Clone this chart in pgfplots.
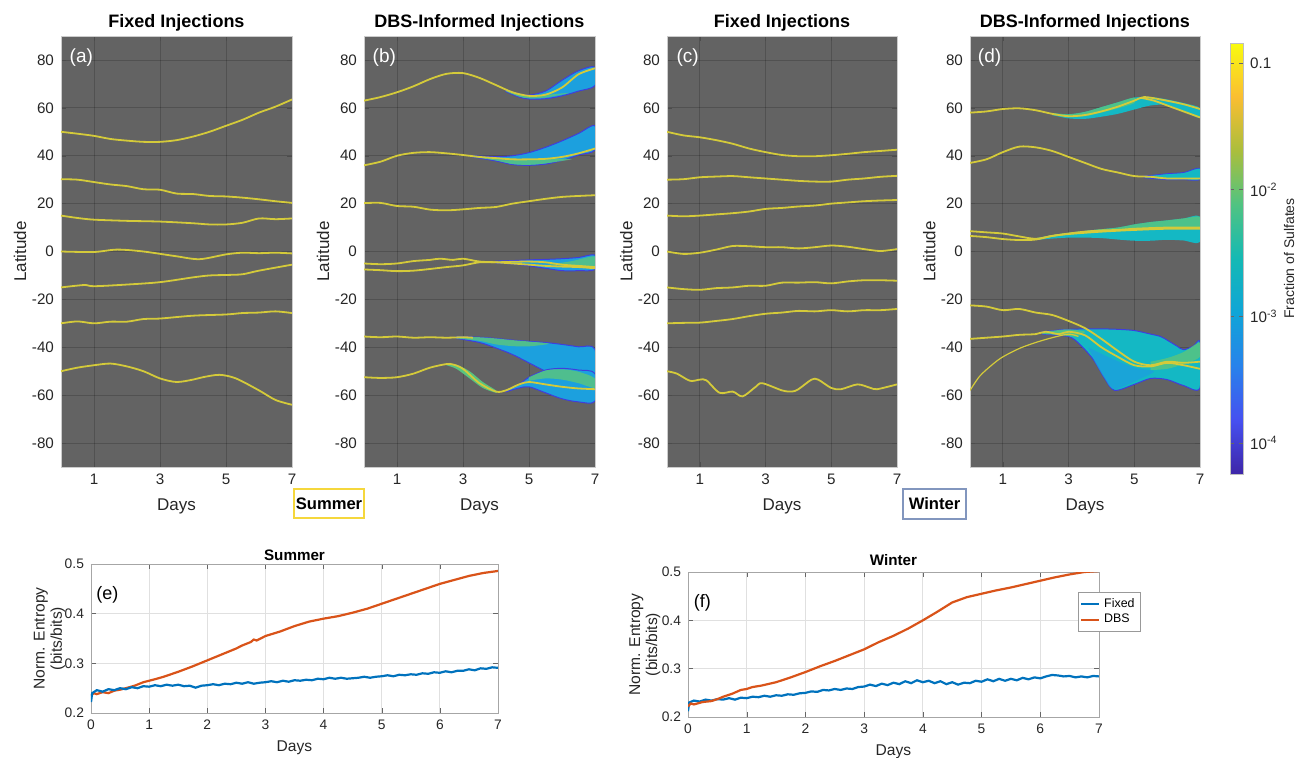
\documentclass[border=0pt]{standalone}
\usepackage{fontspec}
\setmainfont{Liberation Sans}
\usepackage{pgfplots}
\pgfplotsset{compat=1.18}

\definecolor{bggray}{RGB}{99,99,99}
\definecolor{yel}{RGB}{212,202,58}
\definecolor{pblue}{RGB}{62,62,222}
\definecolor{pcyan}{RGB}{28,160,222}
\definecolor{pteal}{RGB}{20,184,196}
\definecolor{pgreen}{RGB}{88,196,128}
\definecolor{mblue}{RGB}{0,114,189}
\definecolor{morange}{RGB}{217,83,25}
\definecolor{sumyel}{RGB}{245,215,60}
\definecolor{winblue}{RGB}{130,150,190}

\pgfplotsset{
  every axis title shift=0pt,
  colormap={parula}{rgb255=(62,38,168) rgb255=(70,80,240) rgb255=(40,130,235)
    rgb255=(15,165,215) rgb255=(20,185,180) rgb255=(80,195,130)
    rgb255=(170,190,60) rgb255=(250,190,50) rgb255=(249,251,14)},
  toppanel/.style={
    scale only axis, width=115.5pt, height=215.5pt, anchor=north west,
    xmin=0, xmax=7, ymin=-90, ymax=90,
    xtick={1,3,5,7}, ytick={-80,-60,...,80},
    axis background/.style={fill=bggray},
    grid=major, grid style={black, line width=0.4pt, opacity=0.18},
    axis line style={draw=black!20},
    tick align=inside, major tick length=2.5pt, tick style={black!70},
    ticklabel style={font=\fontsize{7.6}{8}\selectfont, text=black!85},
    /pgf/number format/assume math mode=true,
    xlabel={Days}, ylabel={Latitude},
    xlabel style={at={(axis description cs:0.5,-0.0905)}, anchor=center,
      font=\fontsize{8.5}{9}\selectfont, text=black!85},
    ylabel style={at={(axis description cs:-0.1775,0.5)}, anchor=center,
      font=\fontsize{8.5}{9}\selectfont, text=black!85},
    title style={at={(axis description cs:0.5,1.031)}, anchor=center,
      font=\bfseries\fontsize{9}{10}\selectfont},
    clip=true,
  },
  yline/.style={yel, line width=0.9pt, smooth, tension=0.5},
  spread/.style={fill=pcyan, draw=pblue, line width=0.5pt, smooth, tension=0.5},
  inner/.style={fill=pgreen, draw=none, fill opacity=0.85, smooth, tension=0.5},
  botpanel/.style={
    scale only axis, anchor=north west,
    xmin=0, xmax=7, ymin=0.2, ymax=0.5,
    xtick={0,...,7}, ytick={0.2,0.3,0.4,0.5},
    grid=major, grid style={black!12, line width=0.4pt},
    axis line style={draw=black!35},
    tick align=inside, major tick length=2.5pt, tick style={black!60},
    ticklabel style={font=\fontsize{6.9}{8}\selectfont, text=black!85},
    yticklabel style={/pgf/number format/fixed, /pgf/number format/precision=1,
      /pgf/number format/fixed zerofill},
    /pgf/number format/assume math mode=true,
    xlabel={Days}, ylabel={Norm. Entropy\\(bits/bits)},
    xlabel style={font=\fontsize{7.8}{8}\selectfont, text=black!85, anchor=center},
    ylabel style={align=center, font=\fontsize{7.8}{8.6}\selectfont, text=black!85, anchor=center},
    title style={font=\bfseries\fontsize{7.6}{8}\selectfont, anchor=center},
  },
}

\begin{document}
\begin{tikzpicture}
\path[use as bounding box] (0pt,0pt) rectangle (648.5pt,-378.5pt);

% ---------------- (a) Summer, fixed
\begin{axis}[toppanel, at={(30.5pt,-18pt)}, title={Fixed Injections}]
\addplot[yline] coordinates {(0,50) (0.5,49.2) (1,48.3) (1.5,47) (2,46.3) (2.5,45.8) (3,45.8) (3.5,46.5) (4,48) (4.5,50) (5,52.5) (5.5,55) (6,58) (6.5,60.5) (7,63.5)};
\addplot[yline] coordinates {(0,30.2) (0.5,30) (1,29) (1.5,28) (2,27.3) (2.5,26) (3,25.8) (3.5,24.2) (4,24) (4.5,23.2) (5,23) (5.5,22.5) (6,21.8) (6.5,21) (7,20.3)};
\addplot[yline] coordinates {(0,15) (0.5,14) (1,13.3) (2,12.8) (3,12.5) (4,11.8) (4.5,11.3) (5,11.3) (5.5,12) (6,13.8) (6.5,13.5) (7,13.8)};
\addplot[yline] coordinates {(0,0) (1,-0.2) (1.7,0.8) (2.5,0) (3.5,-2) (4.2,-3.2) (5,-1.2) (5.5,-0.5) (6,-0.7) (6.5,-0.5) (7,-0.8)};
\addplot[yline] coordinates {(0,-15) (0.7,-14) (1,-14.5) (2,-13.8) (3,-12.8) (4,-10.8) (4.5,-10) (5,-9.8) (5.5,-9.5) (6,-8) (7,-5.5)};
\addplot[yline] coordinates {(0,-30) (0.5,-29.2) (1,-30) (1.5,-29.3) (2,-29.3) (2.5,-28.2) (3,-28) (4,-26.8) (5,-26.3) (5.5,-25.7) (6,-25.5) (6.5,-25) (7,-25.7)};
\addplot[yline] coordinates {(0,-50) (0.5,-48.5) (1,-47.5) (1.5,-46.8) (2,-48) (2.5,-50) (3,-53) (3.5,-54.5) (4,-53.5) (4.3,-52.5) (4.8,-51.5) (5.3,-53) (6,-58) (6.5,-62) (7,-64)};
\node[white, font=\fontsize{9.5}{10}\selectfont] at (rel axis cs:0.088,0.95) {(a)};
\end{axis}

% ---------------- (b) Summer, DBS
\begin{axis}[toppanel, at={(182pt,-18pt)}, title={DBS-Informed Injections}]
% spreads
\addplot[spread] coordinates {(4.3,67.5) (4.7,65.8) (5,65.3) (5.5,67) (6,71.5) (6.5,75.5) (7,77) (7,69.3) (6.5,67) (6,65) (5.5,63.8) (5,63.7) (4.7,64.5) (4.3,66.8)} --cycle;
\addplot[inner] coordinates {(4.3,67.2) (4.7,65.6) (5,65.2) (5.5,65.4) (6.2,66.2) (5.5,64.3) (5,64) (4.7,64.7) (4.3,66.9)} --cycle;
\addplot[spread] coordinates {(3.3,40) (4,39.6) (4.5,40) (5,41.3) (5.5,43.5) (6,46.2) (6.5,49.3) (7,52.5) (7,42.5) (6.5,40.3) (6,38) (5.5,36.5) (5,36) (4.5,36.3) (4,37.8) (3.3,39.5)} --cycle;
\addplot[inner] coordinates {(3.3,40) (4,39.2) (4.5,38.8) (5,38.5) (5.5,38.5) (6.3,38.6) (5.5,36.8) (5,36.2) (4.5,36.5) (4,38) (3.3,39.5)} --cycle;
\addplot[spread] coordinates {(4,-4) (4.5,-3.8) (5,-3.5) (5.5,-3.3) (6,-3) (6.5,-2.5) (7,-1.5) (7,-7.5) (6.5,-8) (6,-8) (5.5,-7) (5,-6) (4.5,-5.2) (4,-4.8)} --cycle;
\addplot[inner] coordinates {(5.6,-5.5) (6.3,-4) (7,-2) (7,-6) (6.4,-6.5)} --cycle;
\addplot[spread] coordinates {(2.8,-35.5) (3.5,-35.8) (4,-36.3) (4.5,-37) (5,-37.5) (5.5,-38) (6,-38.8) (6.5,-39.8) (7,-40.8) (7,-58) (6.5,-56) (6,-53) (5.5,-50) (5,-46.5) (4.5,-43) (4,-40.3) (3.5,-38) (2.8,-36.3)} --cycle;
\addplot[inner] coordinates {(2.8,-35.5) (3.5,-35.8) (4,-36.3) (4.5,-37) (5,-37.6) (5.6,-38.5) (5,-39.6) (4.5,-39.5) (4,-38.8) (3.5,-37.3) (2.8,-36.3)} --cycle;
\addplot[spread] coordinates {(4.3,-58) (4.7,-55.5) (5,-52.5) (5.5,-49.5) (6,-48.8) (6.5,-49.5) (7,-51) (7,-62.5) (6.5,-62.8) (6,-61.5) (5.5,-59) (5,-56.5) (4.7,-57) (4.3,-58.6)} --cycle;
\addplot[inner] coordinates {(5,-52.5) (5.5,-49.7) (6,-49.2) (6.5,-50.2) (7,-53) (7,-57) (6.5,-55) (6,-53.5) (5.5,-53) (5,-54)} --cycle;
\addplot[fill=pgreen, draw=none, smooth, tension=0.5] coordinates {(2.5,-47) (2.8,-47.3) (3.2,-50) (3.6,-54.5) (4,-58) (4,-59) (3.6,-57) (3.2,-53) (2.8,-49) (2.5,-47.5)} --cycle;
% trajectories
\addplot[yline] coordinates {(0,63) (0.5,64.5) (1,66.5) (1.5,69) (2,72) (2.5,74.2) (3,74.5) (3.5,72.5) (4,69.5) (4.5,66.5) (5,65) (5.5,65.5) (6,68.5) (6.5,74) (7,76.5)};
\addplot[yline] coordinates {(0,36) (0.5,37.5) (1,40) (1.5,41.2) (2,41.5) (2.5,41) (3,40.3) (3.5,39.5) (4,39) (4.5,38.5) (5,38.5) (5.5,38.7) (6,39.5) (6.5,41) (7,43)};
\addplot[yline] coordinates {(0,20.2) (0.5,20.3) (1,19) (1.5,18.7) (2,17.5) (2.5,17.2) (3,17.6) (3.5,18.2) (4,18.6) (4.5,20) (5,21) (5.5,22) (6,22.8) (6.5,23.2) (7,23.5)};
\addplot[yline] coordinates {(0,-5) (0.5,-5.3) (1,-5) (1.5,-4) (2,-3.5) (2.3,-3) (2.7,-3.5) (3,-3) (3.5,-4.2) (4,-4.5) (4.5,-5) (5,-5.5) (5.5,-6) (6,-6.3) (6.5,-6.5) (7,-7)};
\addplot[yline] coordinates {(0,-7.5) (0.5,-7.8) (1,-8.2) (1.5,-8) (2,-7.3) (2.5,-6.5) (3,-5.8) (3.5,-4.5) (4,-4.5) (4.5,-4.3) (5,-4.2) (5.5,-4.5) (6,-5.5) (6.5,-6) (7,-6.5)};
\addplot[yline] coordinates {(0,-35.5) (0.5,-35.8) (1,-35.5) (1.5,-36) (2,-35.8) (2.5,-36) (3,-35.8) (3.3,-36)};
\addplot[yline] coordinates {(0,-52.5) (0.5,-52.8) (1,-52.5) (1.5,-51) (2,-48.5) (2.5,-47) (2.7,-47.2) (3,-49) (3.5,-55) (4,-58.5) (4.3,-58) (4.7,-55.5) (5,-54.5) (5.5,-55.5) (6,-56.5) (6.5,-57.2) (7,-57.5)};
\node[white, font=\fontsize{9.5}{10}\selectfont] at (rel axis cs:0.088,0.95) {(b)};
\end{axis}

% ---------------- (c) Winter, fixed
\begin{axis}[toppanel, at={(333.5pt,-18pt)}, width=115pt, title={Fixed Injections}]
\addplot[yline] coordinates {(0,50) (0.5,48.5) (1,47.7) (1.5,46.5) (2,45) (2.5,43) (3,41.5) (3.5,40.3) (4,39.8) (4.5,39.8) (5,40.2) (5.5,40.8) (6,41.5) (6.5,42) (7,42.5)};
\addplot[yline] coordinates {(0,30) (0.5,30.2) (1,31) (1.5,31.3) (2,31.5) (2.5,31) (3,30.5) (3.5,30) (4,29.5) (4.5,29.2) (5,29.2) (5.5,30) (6,30.5) (6.5,31.2) (7,31.6)};
\addplot[yline] coordinates {(0,15) (0.5,14.7) (1,15) (1.5,15.5) (2,16) (2.5,16.7) (3,17.8) (3.5,18.2) (4,18.8) (4.5,19.2) (5,20) (5.5,20.5) (6,21) (6.5,21.3) (7,21.5)};
\addplot[yline] coordinates {(0,0) (0.5,-1) (1,-0.5) (1.5,0.8) (2,2.3) (2.5,2.2) (3,1.8) (3.5,1.8) (4,1.3) (4.5,1.8) (5,2.5) (5.5,2) (6,1) (6.5,0.2) (7,1)};
\addplot[yline] coordinates {(0,-15) (0.5,-15.7) (1,-16) (1.5,-15.3) (2,-15) (2.5,-14.3) (3,-14.3) (3.5,-13) (4,-13) (4.5,-12.8) (5,-13.3) (5.5,-12.5) (6,-12) (6.5,-12) (7,-12.2)};
\addplot[yline] coordinates {(0,-30) (0.5,-29.8) (1,-29.7) (1.5,-29) (2,-28.2) (2.5,-27) (3,-26) (3.5,-25.5) (4,-24.8) (4.5,-25) (5,-24.5) (5.5,-25) (6,-24.5) (6.5,-24.5) (7,-24)};
\addplot[yline] coordinates {(0,-50) (0.3,-51) (0.7,-54) (1,-53.5) (1.2,-53.8) (1.6,-59) (2,-58.5) (2.3,-60.5) (2.7,-56.5) (2.9,-55) (3.5,-58) (3.8,-58.5) (4,-57.5) (4.4,-53.5) (4.6,-53.5) (5,-57) (5.3,-57.5) (5.8,-55.5) (6.2,-57) (6.4,-57.5) (7,-55.5)};
\node[white, font=\fontsize{9.5}{10}\selectfont] at (rel axis cs:0.09,0.95) {(c)};
\end{axis}

% ---------------- (d) Winter, DBS
\begin{axis}[toppanel, at={(485pt,-18pt)}, width=115pt, title={DBS-Informed Injections},
  colorbar, colormap name=parula,
  point meta min=-4.244, point meta max=-0.843,
  colorbar style={
    at={(parent axis.north east)}, anchor=north west,
    xshift=6.5pt, yshift=-3.5pt,
    scale only axis, width=6.5pt, height=215.5pt,
    ytick={-4,-3,-2,-1},
    yticklabels={10\textsuperscript{-4},10\textsuperscript{-3},10\textsuperscript{-2},0.1},
    axis line style={draw=black!25},
    tick align=inside, major tick length=2pt, tick style={black!60},
    yticklabel style={font=\fontsize{7.6}{8}\selectfont, text=black!85},
    ylabel={Fraction of Sulfates},
    ylabel style={at={(axis description cs:4.54,0.5)}, anchor=center,
      font=\fontsize{7}{8}\selectfont, text=black!85},
  }]
\addplot[fill=pteal, draw=none, smooth, tension=0.5] coordinates {(2.5,57.8) (3,57.3) (3.5,58.3) (4,60.3) (4.5,62.3) (5,64.3) (5.5,64.5) (6,63.5) (6.5,62) (7,60) (7,55.8) (6.5,58.5) (6,61.2) (5.5,61) (5,59.3) (4.5,57.5) (4,56.3) (3.5,55.4) (3,55.6) (2.5,57)} --cycle;
\addplot[inner] coordinates {(2.5,57.8) (3,57.3) (3.5,58.3) (4,60.3) (4.5,62.3) (5,64.3) (5,62) (4.5,59.8) (4,58) (3.5,56.5) (3,56.2) (2.5,57)} --cycle;
\addplot[fill=pteal, draw=pblue, line width=0.4pt, smooth, tension=0.5] coordinates {(5.3,31.5) (6,32.5) (6.5,33) (7,34.8) (7,30) (6.5,30) (6,30) (5.3,30.8)} --cycle;
\addplot[fill=pteal, draw=none, smooth, tension=0.5] coordinates {(2,5.5) (2.5,6.8) (3,7.8) (3.5,8.6) (4,9.3) (4.5,10) (5,11.3) (5.5,12.3) (6,13) (6.5,13.8) (7,14.5) (7,4) (6.5,4.6) (6,4.9) (5.5,4.5) (5,4.5) (4.5,5) (4,5.6) (3.5,5.8) (3,5.8) (2.5,5.4) (2,4.8)} --cycle;
\addplot[inner] coordinates {(2,5.5) (2.5,6.8) (3,7.8) (3.5,8.6) (4,9.3) (4.5,10) (5,11.3) (5.5,12.3) (6,13) (6.5,13.8) (7,14.5) (7,10) (6,9.8) (5,9) (4,8) (3,7) (2,5.2)} --cycle;
\addplot[spread, fill=pteal] coordinates {(2.2,-33.5) (2.7,-32.8) (3,-32.5) (3.5,-32.3) (4,-32.3) (4.5,-32.5) (5,-33) (5.5,-34.5) (5.8,-35.5) (6,-37) (6.3,-39.5) (6.5,-41) (6.8,-39.5) (7,-38) (7,-57) (6.5,-56) (6,-53.5) (5.5,-53) (5,-55.5) (4.4,-58) (4.1,-53) (3.8,-46) (3.5,-41) (3.2,-37) (3,-35.5) (2.7,-35) (2.2,-34.5)} --cycle;
\addplot[fill=pcyan, draw=none, fill opacity=0.8, smooth, tension=0.5] coordinates {(3.6,-40) (4.2,-44) (5,-48.5) (5.6,-50) (5.2,-53) (4.4,-57.5) (4.1,-53) (3.8,-46)} --cycle;
\addplot[inner] coordinates {(2.2,-33.5) (2.7,-32.8) (3,-32.5) (3.5,-33.5) (3.2,-35.5) (2.7,-34.8) (2.2,-34.5)} --cycle;
\addplot[inner] coordinates {(5.5,-46) (6,-44.5) (6.5,-42) (7,-38) (7,-44) (6.5,-47) (6,-49) (5.5,-49.5)} --cycle;
% trajectories
\addplot[yline] coordinates {(0,58) (0.5,58.5) (1,59.5) (1.5,59.8) (2,59) (2.5,57.5) (3,56.5) (3.5,57) (4,58.5) (4.5,60.5) (5,63) (5.3,64.5) (5.8,63.5) (6.5,61.5) (7,59.5)};
\addplot[yline] coordinates {(5.2,64.2) (5.6,63) (6,61) (6.5,58.5) (7,56)};
\addplot[yline] coordinates {(0,37) (0.5,38.5) (1,41.5) (1.5,43.8) (2,43.5) (2.5,42) (3,39.5) (3.5,37) (4,34.5) (4.5,33) (5,31.5) (5.5,31.2) (6,30.5) (6.5,30.5) (7,30.5)};
\addplot[yline] coordinates {(0,8.5) (0.5,8) (1,7.5) (1.5,6.3) (2,5.3) (2.5,6.5) (3,7.5) (3.5,8.3) (4,8.8) (4.5,9) (5,9.5) (6,10) (7,10)};
\addplot[yline] coordinates {(0,6.5) (0.5,6) (1,5.2) (1.5,4.8) (2,5) (2.5,6.5) (3,7.3) (4,8.3) (5,9) (6,9.5) (7,9.5)};
\addplot[yline] coordinates {(0,-22.5) (0.5,-23) (1,-24.5) (1.5,-24) (2,-25.5) (2.5,-26.5) (3,-29) (3.5,-32) (4,-36.5) (4.5,-41.5) (5,-46) (5.5,-47.5) (6,-46) (6.5,-46.5) (7,-46)};
\addplot[yline] coordinates {(0,-36.5) (0.5,-36) (1,-35.5) (1.5,-34.8) (2,-34.5) (2.3,-33.5) (2.7,-34.5) (3,-33.5) (3.5,-35) (4,-40) (4.5,-44) (5,-47.5) (5.5,-48) (6,-46.5) (6.5,-47.5) (7,-49)};
\addplot[yel, line width=0.6pt, smooth, tension=0.5] coordinates {(0,-58) (0.3,-52) (0.7,-47) (1,-44) (1.5,-40.5) (2,-38) (2.5,-36) (3,-34.5) (3.3,-35.5)};
\node[white, font=\fontsize{9.5}{10}\selectfont] at (rel axis cs:0.085,0.95) {(d)};
\end{axis}

% ---------------- (e) Summer entropy
\begin{axis}[botpanel, at={(45.5pt,-282pt)}, width=203.5pt, height=74.5pt,
  title={Summer}, title style={at={(axis description cs:0.5,1.06)}},
  xlabel style={at={(axis description cs:0.5,-0.235)}},
  ylabel style={at={(axis description cs:-0.102,0.5)}}]
\addplot[morange, line width=1.1pt] coordinates {(0,0.235) (0.05,0.24) (0.1,0.238) (0.2,0.242) (0.3,0.240) (0.4,0.245) (0.5,0.247) (0.6,0.250) (0.75,0.255) (0.9,0.262) (1,0.265) (1.1,0.268) (1.25,0.273) (1.5,0.283) (1.75,0.294) (2,0.306) (2.25,0.318) (2.5,0.33) (2.6,0.336) (2.75,0.343) (2.8,0.348) (2.85,0.346) (3,0.355) (3.25,0.364) (3.5,0.375) (3.75,0.384) (4,0.39) (4.25,0.395) (4.5,0.402) (4.75,0.41) (5,0.42) (5.25,0.43) (5.5,0.44) (5.75,0.45) (6,0.46) (6.25,0.468) (6.5,0.476) (6.75,0.482) (7,0.486)};
\addplot[mblue, line width=1.1pt] coordinates {(0,0.222) (0.02,0.240) (0.1,0.246) (0.2,0.243) (0.3,0.248) (0.4,0.246) (0.5,0.250) (0.6,0.248) (0.7,0.252) (0.8,0.250) (0.9,0.254) (1.0,0.253) (1.1,0.256) (1.2,0.254) (1.3,0.257) (1.4,0.255) (1.5,0.257) (1.6,0.254) (1.7,0.255) (1.8,0.251) (1.9,0.255) (2.0,0.256) (2.1,0.258) (2.2,0.256) (2.3,0.259) (2.4,0.258) (2.5,0.261) (2.6,0.259) (2.7,0.262) (2.8,0.259) (2.9,0.261) (3.0,0.262) (3.1,0.264) (3.2,0.262) (3.3,0.265) (3.4,0.263) (3.5,0.266) (3.6,0.265) (3.7,0.267) (3.8,0.266) (3.9,0.269) (4.0,0.268) (4.1,0.271) (4.2,0.269) (4.3,0.271) (4.4,0.269) (4.5,0.270) (4.6,0.271) (4.7,0.273) (4.8,0.271) (4.9,0.273) (5.0,0.274) (5.1,0.276) (5.2,0.274) (5.3,0.277) (5.4,0.276) (5.5,0.278) (5.6,0.277) (5.7,0.280) (5.8,0.279) (5.9,0.282) (6.0,0.281) (6.1,0.284) (6.2,0.282) (6.3,0.285) (6.4,0.285) (6.5,0.288) (6.6,0.286) (6.7,0.290) (6.8,0.289) (6.9,0.292) (7.0,0.291)};
\node[font=\fontsize{9}{10}\selectfont] at (rel axis cs:0.04,0.79) {(e)};
\end{axis}

% ---------------- (f) Winter entropy
\begin{axis}[botpanel, at={(344pt,-286pt)}, width=205.5pt, height=72.5pt,
  title={Winter}, title style={at={(axis description cs:0.5,1.083)}},
  xlabel style={at={(axis description cs:0.5,-0.241)}},
  ylabel style={at={(axis description cs:-0.105,0.5)}},
  legend style={at={(axis description cs:0.949,0.862)}, anchor=north west,
    font=\fontsize{6.2}{7}\selectfont, draw=black!40, fill=white,
    inner sep=0.8pt, row sep=-2pt},
  legend cell align=left,
  legend image code/.code={\draw[#1] (0pt,0pt) -- (9pt,0pt);}]
\addplot[mblue, line width=1.1pt] coordinates {(0,0.212) (0.02,0.230) (0.1,0.234) (0.2,0.232) (0.3,0.236) (0.4,0.234) (0.5,0.237) (0.6,0.236) (0.7,0.239) (0.8,0.236) (0.9,0.240) (1.0,0.239) (1.1,0.242) (1.2,0.241) (1.3,0.244) (1.4,0.242) (1.5,0.245) (1.6,0.244) (1.7,0.247) (1.8,0.246) (1.9,0.249) (2.0,0.250) (2.1,0.253) (2.2,0.252) (2.3,0.256) (2.4,0.255) (2.5,0.258) (2.6,0.256) (2.7,0.259) (2.8,0.258) (2.9,0.262) (3.0,0.263) (3.1,0.267) (3.2,0.264) (3.3,0.269) (3.4,0.266) (3.5,0.271) (3.6,0.268) (3.7,0.274) (3.8,0.270) (3.9,0.276) (4.0,0.272) (4.1,0.275) (4.2,0.270) (4.3,0.274) (4.4,0.268) (4.5,0.272) (4.6,0.267) (4.7,0.271) (4.8,0.270) (4.9,0.275) (5.0,0.273) (5.1,0.278) (5.2,0.274) (5.3,0.279) (5.4,0.275) (5.5,0.279) (5.6,0.276) (5.7,0.281) (5.8,0.278) (5.9,0.282) (6.0,0.280) (6.1,0.284) (6.2,0.287) (6.3,0.286) (6.4,0.284) (6.5,0.285) (6.6,0.282) (6.7,0.284) (6.8,0.282) (6.9,0.285) (7.0,0.284)};
\addlegendentry{Fixed}
\addplot[morange, line width=1.1pt] coordinates {(0,0.222) (0.05,0.228) (0.1,0.226) (0.25,0.231) (0.4,0.233) (0.5,0.237) (0.6,0.242) (0.75,0.248) (0.9,0.256) (1,0.258) (1.1,0.262) (1.25,0.265) (1.5,0.272) (1.6,0.276) (1.75,0.282) (2,0.293) (2.25,0.305) (2.5,0.316) (2.75,0.328) (3,0.34) (3.25,0.355) (3.5,0.368) (3.75,0.383) (4,0.4) (4.25,0.418) (4.5,0.437) (4.75,0.448) (5,0.455) (5.25,0.462) (5.5,0.468) (5.75,0.475) (6,0.482) (6.25,0.489) (6.5,0.495) (6.75,0.5) (7,0.502)};
\addlegendentry{DBS}
\node[font=\fontsize{9}{10}\selectfont] at (rel axis cs:0.035,0.79) {(f)};
\end{axis}

% season tags
\node[draw=sumyel, fill=white, line width=0.6pt, minimum width=35pt, minimum height=14.5pt,
  inner sep=0pt, font=\bfseries\fontsize{8.3}{9}\selectfont] at (164.5pt,-251.75pt) {Summer};
\node[draw=winblue, fill=white, line width=0.6pt, minimum width=31.5pt, minimum height=15pt,
  inner sep=0pt, font=\bfseries\fontsize{8.3}{9}\selectfont] at (467.25pt,-252pt) {Winter};
\end{tikzpicture}
\end{document}
